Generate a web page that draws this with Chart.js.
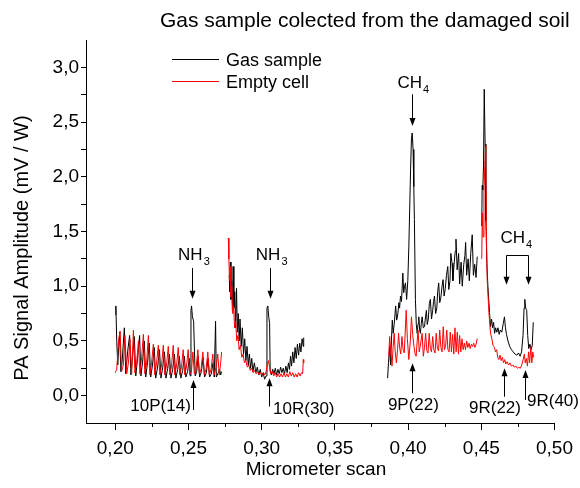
<!DOCTYPE html>
<html lang="en">
<head>
<meta charset="UTF-8">
<title>Gas sample colected from the damaged soil</title>
<script src="https://cdn.jsdelivr.net/npm/chart.js@4.4.1/dist/chart.umd.min.js"></script>
<style>
  body { margin: 0; background: #fff; }
  #wrap { width: 580px; height: 488px; position: relative; }
</style>
</head>
<body>
<div id="wrap"><canvas id="paChart"></canvas></div>
<script>
// PA signal vs micrometer scan, four scan windows; a null signal breaks the line between windows
const gasScan = [
  0.2000, 0.2004, 0.2010, 0.2017, 0.2024, 0.2030, 0.2038, 0.2046, 0.2062, 0.2072, 0.2084, 0.2098, 0.2107, 0.2118,
  0.2130, 0.2140, 0.2152, 0.2166, 0.2175, 0.2186, 0.2198, 0.2208, 0.2220, 0.2232, 0.2242, 0.2254, 0.2266, 0.2276,
  0.2290, 0.2302, 0.2312, 0.2324, 0.2336, 0.2346, 0.2358, 0.2370, 0.2380, 0.2392, 0.2404, 0.2414, 0.2426, 0.2438,
  0.2448, 0.2460, 0.2472, 0.2482, 0.2494, 0.2505, 0.2512, 0.2517, 0.2521, 0.2527, 0.2535, 0.2541, 0.2546, 0.2556,
  0.2566, 0.2576, 0.2588, 0.2600, 0.2610, 0.2622, 0.2634, 0.2644, 0.2656, 0.2668, 0.2676, 0.2685, 0.2690, 0.2700,
  0.2712, 0.2720, 0.2726,
  0.2750,
  0.2778, 0.2782, 0.2786, 0.2790, 0.2795, 0.2800, 0.2805, 0.2810, 0.2816, 0.2822, 0.2828, 0.2834, 0.2840, 0.2846,
  0.2852, 0.2860, 0.2868, 0.2876, 0.2884, 0.2892, 0.2900, 0.2908, 0.2916, 0.2924, 0.2932, 0.2940, 0.2950, 0.2960,
  0.2970, 0.2980, 0.2990, 0.3000, 0.3010, 0.3020, 0.3030, 0.3036, 0.3042, 0.3048, 0.3054, 0.3058, 0.3066, 0.3075,
  0.3084, 0.3093, 0.3102, 0.3111, 0.3120, 0.3129, 0.3138, 0.3147, 0.3156, 0.3165, 0.3174, 0.3183, 0.3190, 0.3197,
  0.3204, 0.3212, 0.3220, 0.3228, 0.3236, 0.3244, 0.3252, 0.3260, 0.3268, 0.3276, 0.3284, 0.3287,
  0.3550,
  0.3860, 0.3866, 0.3874, 0.3880, 0.3886, 0.3892, 0.3898, 0.3905, 0.3915, 0.3922, 0.3930, 0.3937, 0.3942, 0.3948,
  0.3955, 0.3964, 0.3970, 0.3976, 0.3982, 0.3990, 0.3998, 0.4005, 0.4017, 0.4023, 0.4028, 0.4034, 0.4039, 0.4043,
  0.4050, 0.4056, 0.4062, 0.4068, 0.4073, 0.4079, 0.4084, 0.4090, 0.4096, 0.4104, 0.4112, 0.4119, 0.4125, 0.4131,
  0.4138, 0.4145, 0.4152, 0.4160, 0.4168, 0.4174, 0.4180, 0.4188, 0.4196, 0.4202, 0.4209, 0.4216, 0.4224, 0.4232,
  0.4239, 0.4246, 0.4254, 0.4262, 0.4271, 0.4278, 0.4286, 0.4292, 0.4300, 0.4306, 0.4314, 0.4322, 0.4327, 0.4335,
  0.4345, 0.4352, 0.4362, 0.4370, 0.4380, 0.4388, 0.4393, 0.4400, 0.4410, 0.4418, 0.4428, 0.4438, 0.4446, 0.4455,
  0.4464, 0.4472,
  0.4488,
  0.4503, 0.4506, 0.4510, 0.4515, 0.4520, 0.4526, 0.4531, 0.4538, 0.4545, 0.4556, 0.4563, 0.4570, 0.4577, 0.4584,
  0.4591, 0.4598, 0.4606, 0.4614, 0.4622, 0.4630, 0.4640, 0.4650, 0.4658, 0.4665, 0.4672, 0.4682, 0.4694, 0.4706,
  0.4718, 0.4730, 0.4742, 0.4754, 0.4765, 0.4775, 0.4785, 0.4792, 0.4797, 0.4803, 0.4810, 0.4817, 0.4824, 0.4832,
  0.4840, 0.4848, 0.4855
];
const gasSignal = [
  0.74, 0.82, 0.50, 0.28, 0.45, 0.58, 0.22, 0.30, 0.62, 0.20, 0.40, 0.55, 0.19, 0.36,
  0.54, 0.18, 0.34, 0.55, 0.18, 0.30, 0.50, 0.17, 0.30, 0.48, 0.17, 0.28, 0.44, 0.16,
  0.27, 0.42, 0.16, 0.26, 0.40, 0.16, 0.25, 0.38, 0.16, 0.24, 0.38, 0.16, 0.24, 0.36,
  0.16, 0.23, 0.36, 0.17, 0.22, 0.34, 0.18, 0.78, 0.82, 0.72, 0.68, 0.40, 0.18, 0.22,
  0.36, 0.17, 0.22, 0.35, 0.17, 0.21, 0.34, 0.17, 0.20, 0.30, 0.17, 0.68, 0.17, 0.20,
  0.24, 0.19, 0.22,
  null,
  1.10, 0.95, 1.22, 0.88, 1.05, 0.78, 1.18, 0.80, 0.95, 0.62, 0.98, 0.58, 0.75, 0.50,
  0.70, 0.45, 0.62, 0.38, 0.52, 0.32, 0.45, 0.28, 0.38, 0.25, 0.34, 0.22, 0.30, 0.21,
  0.26, 0.19, 0.24, 0.17, 0.21, 0.15, 0.18, 0.80, 0.82, 0.72, 0.66, 0.22, 0.19, 0.24,
  0.20, 0.25, 0.19, 0.24, 0.20, 0.26, 0.21, 0.25, 0.20, 0.27, 0.21, 0.30, 0.24, 0.36,
  0.27, 0.40, 0.30, 0.44, 0.34, 0.47, 0.37, 0.48, 0.40, 0.52, 0.45, 0.53,
  null,
  0.16, 0.30, 0.45, 0.28, 0.50, 0.69, 0.57, 0.65, 0.82, 0.69, 0.75, 0.85, 0.80, 0.91,
  0.86, 1.12, 0.94, 1.00, 1.03, 0.88, 1.05, 1.36, 2.07, 2.35, 2.40, 2.25, 1.91, 1.61,
  0.88, 0.65, 0.57, 0.66, 0.72, 0.60, 0.57, 0.66, 0.72, 0.62, 0.63, 0.72, 0.78, 0.65,
  0.70, 0.84, 0.88, 0.70, 0.78, 0.86, 0.91, 0.75, 0.80, 0.95, 1.03, 0.85, 0.90, 1.00,
  1.06, 0.91, 0.98, 1.10, 1.18, 0.97, 1.05, 1.30, 1.21, 1.05, 1.20, 1.32, 1.43, 1.15,
  1.30, 1.02, 1.22, 1.00, 1.20, 1.28, 1.40, 1.10, 1.25, 1.05, 1.30, 1.47, 1.10, 1.20,
  1.08, 1.27,
  null,
  1.55, 1.92, 1.88, 2.10, 2.80, 2.30, 1.60, 1.21, 1.00, 0.76, 0.63, 0.70, 0.62, 0.67,
  0.57, 0.62, 0.58, 0.62, 0.56, 0.60, 0.58, 0.66, 0.72, 0.62, 0.56, 0.50, 0.45, 0.42,
  0.40, 0.38, 0.37, 0.39, 0.36, 0.40, 0.55, 0.80, 0.88, 0.80, 0.78, 0.55, 0.43, 0.47,
  0.42, 0.46, 0.67
];

const cellScan = [
  0.2000, 0.2010, 0.2022, 0.2033, 0.2043, 0.2055, 0.2066, 0.2078, 0.2090, 0.2100, 0.2112, 0.2124, 0.2134, 0.2146,
  0.2158, 0.2168, 0.2180, 0.2192, 0.2202, 0.2214, 0.2226, 0.2236, 0.2248, 0.2260, 0.2270, 0.2282, 0.2294, 0.2304,
  0.2316, 0.2328, 0.2338, 0.2350, 0.2362, 0.2372, 0.2384, 0.2396, 0.2406, 0.2418, 0.2430, 0.2440, 0.2452, 0.2464,
  0.2474, 0.2486, 0.2498, 0.2508, 0.2520, 0.2530, 0.2540, 0.2552, 0.2564, 0.2574, 0.2586, 0.2598, 0.2608, 0.2620,
  0.2632, 0.2642, 0.2654, 0.2666, 0.2676, 0.2688, 0.2700, 0.2710, 0.2720, 0.2726,
  0.2750,
  0.2772, 0.2776, 0.2780, 0.2785, 0.2790, 0.2796, 0.2802, 0.2808, 0.2815, 0.2822, 0.2830, 0.2838, 0.2846, 0.2855,
  0.2864, 0.2873, 0.2882, 0.2892, 0.2902, 0.2912, 0.2922, 0.2932, 0.2942, 0.2952, 0.2962, 0.2972, 0.2982, 0.2992,
  0.3002, 0.3012, 0.3022, 0.3030, 0.3038, 0.3046, 0.3054, 0.3062, 0.3072, 0.3082, 0.3092, 0.3102, 0.3112, 0.3122,
  0.3132, 0.3142, 0.3152, 0.3162, 0.3172, 0.3182, 0.3192, 0.3202, 0.3212, 0.3222, 0.3232, 0.3242, 0.3252, 0.3262,
  0.3272, 0.3280, 0.3284, 0.3287,
  0.3550,
  0.3868, 0.3874, 0.3882, 0.3890, 0.3898, 0.3905, 0.3912, 0.3920, 0.3928, 0.3935, 0.3942, 0.3950, 0.3958, 0.3966,
  0.3974, 0.3987, 0.3995, 0.4005, 0.4015, 0.4023, 0.4032, 0.4040, 0.4048, 0.4055, 0.4062, 0.4068, 0.4076, 0.4084,
  0.4096, 0.4104, 0.4112, 0.4120, 0.4128, 0.4136, 0.4144, 0.4152, 0.4160, 0.4168, 0.4176, 0.4184, 0.4192, 0.4200,
  0.4208, 0.4216, 0.4224, 0.4232, 0.4240, 0.4248, 0.4256, 0.4264, 0.4272, 0.4280, 0.4288, 0.4296, 0.4304, 0.4312,
  0.4320, 0.4328, 0.4336, 0.4344, 0.4352, 0.4360, 0.4368, 0.4376, 0.4384, 0.4392, 0.4400, 0.4408, 0.4416, 0.4424,
  0.4432, 0.4440, 0.4448, 0.4456, 0.4464, 0.4472,
  0.4488,
  0.4503, 0.4507, 0.4512, 0.4518, 0.4524, 0.4530, 0.4535, 0.4540, 0.4552, 0.4563, 0.4572, 0.4580, 0.4590, 0.4597,
  0.4605, 0.4612, 0.4620, 0.4628, 0.4636, 0.4644, 0.4652, 0.4660, 0.4668, 0.4676, 0.4686, 0.4696, 0.4706, 0.4716,
  0.4726, 0.4736, 0.4746, 0.4756, 0.4766, 0.4776, 0.4786, 0.4794, 0.4800, 0.4808, 0.4815, 0.4823, 0.4830, 0.4838,
  0.4845, 0.4852, 0.4857
];
const cellSignal = [
  0.21, 0.24, 0.50, 0.59, 0.22, 0.28, 0.55, 0.20, 0.30, 0.52, 0.20, 0.60, 0.21, 0.30,
  0.50, 0.20, 0.35, 0.56, 0.20, 0.30, 0.55, 0.19, 0.30, 0.47, 0.19, 0.30, 0.46, 0.19,
  0.28, 0.46, 0.19, 0.28, 0.45, 0.19, 0.27, 0.46, 0.19, 0.27, 0.44, 0.19, 0.26, 0.42,
  0.19, 0.26, 0.42, 0.19, 0.22, 0.40, 0.20, 0.25, 0.42, 0.20, 0.24, 0.40, 0.19, 0.24,
  0.40, 0.19, 0.24, 0.38, 0.19, 0.26, 0.38, 0.19, 0.30, 0.40,
  null,
  1.44, 1.25, 1.05, 1.18, 0.90, 1.00, 0.75, 0.82, 0.62, 0.68, 0.50, 0.55, 0.42, 0.46,
  0.35, 0.38, 0.30, 0.32, 0.26, 0.28, 0.23, 0.25, 0.21, 0.23, 0.20, 0.22, 0.19, 0.21,
  0.19, 0.21, 0.19, 0.22, 0.28, 0.32, 0.26, 0.20, 0.22, 0.18, 0.21, 0.17, 0.20, 0.17,
  0.20, 0.17, 0.21, 0.17, 0.20, 0.17, 0.22, 0.18, 0.21, 0.17, 0.20, 0.17, 0.21, 0.18,
  0.21, 0.20, 0.33, 0.30,
  null,
  0.36, 0.54, 0.40, 0.27, 0.45, 0.57, 0.40, 0.30, 0.42, 0.57, 0.44, 0.38, 0.54, 0.42,
  0.39, 0.78, 0.52, 0.33, 0.50, 0.72, 0.55, 0.45, 0.38, 0.36, 0.50, 0.60, 0.40, 0.46,
  0.57, 0.36, 0.44, 0.57, 0.41, 0.39, 0.57, 0.43, 0.40, 0.54, 0.42, 0.39, 0.57, 0.43,
  0.41, 0.60, 0.44, 0.40, 0.63, 0.42, 0.45, 0.60, 0.42, 0.40, 0.58, 0.40, 0.56, 0.38,
  0.62, 0.40, 0.58, 0.38, 0.55, 0.40, 0.52, 0.42, 0.48, 0.42, 0.50, 0.44, 0.48, 0.43,
  0.47, 0.45, 0.48, 0.44, 0.47, 0.52,
  null,
  1.25, 1.67, 1.45, 1.85, 2.10, 2.28, 1.50, 1.06, 0.76, 0.57, 0.52, 0.46, 0.44, 0.40,
  0.42, 0.35, 0.33, 0.37, 0.32, 0.35, 0.30, 0.33, 0.29, 0.31, 0.28, 0.30, 0.27, 0.28,
  0.26, 0.27, 0.25, 0.26, 0.25, 0.28, 0.33, 0.38, 0.30, 0.34, 0.27, 0.40, 0.30, 0.44,
  0.30, 0.40, 0.35
];

const seriesNames = ['Gas sample', 'Empty cell'];
const chartTitle = 'Gas sample colected from the damaged soil';
const xAxisTitle = 'Micrometer scan';
const yAxisTitle = 'PA Signal Amplitude (mV / W)';
const xMinorTicks = [0.225, 0.275, 0.325, 0.375, 0.425, 0.475];

// line labels: text (+ subscript), arrow position and arrow ends, all in axis units
const marks = [
  { text: 'NH', sub: '3', tx: 0.2429, ty: 1.242, ax: 0.2522, from: 1.167, to: 0.885 },
  { text: 'NH', sub: '3', tx: 0.2960, ty: 1.242, ax: 0.3060, from: 1.167, to: 0.885 },
  { text: '10P(14)', sub: '', tx: 0.2103, ty: -0.140, ax: 0.2533, from: -0.131, to: 0.144 },
  { text: '10R(30)', sub: '', tx: 0.3078, ty: -0.168, ax: 0.3050, from: -0.100, to: 0.159 },
  { text: '9P(22)', sub: '', tx: 0.3862, ty: -0.131, ax: 0.4030, from: 0.022, to: 0.297 },
  { text: 'CH', sub: '4', tx: 0.3928, ty: 2.815, ax: 0.4026, from: 2.754, to: 2.463 },
  { text: '9R(22)', sub: '', tx: 0.4416, ty: -0.158, ax: 0.4654, from: -0.010, to: 0.250 },
  { text: '9R(40)', sub: '', tx: 0.4812, ty: -0.094, ax: 0.4797, from: -0.040, to: 0.235 }
];
// bracket over the two small CH4 lines
const bracket = { text: 'CH', sub: '4', tx: 0.4631, ty: 1.396, x1: 0.4669, x2: 0.4817, top: 1.288, to: 1.013 };

const fontName = '"Liberation Sans", Arial, sans-serif';

function toPoints(xs, ys) {
  return xs.map((x, i) => ({ x: x, y: ys[i] }));
}

function isMajor(v, step) {
  return Math.abs(v / step - Math.round(v / step)) < 1e-6;
}

function arrow(ctx, x, y1, y2) {
  const dir = y2 > y1 ? 1 : -1;
  ctx.beginPath();
  ctx.moveTo(x, y1);
  ctx.lineTo(x, y2 - dir * 4);
  ctx.stroke();
  ctx.beginPath();
  ctx.moveTo(x, y2);
  ctx.lineTo(x - 3, y2 - dir * 8);
  ctx.lineTo(x + 3, y2 - dir * 8);
  ctx.closePath();
  ctx.fill();
}

function chemText(ctx, text, sub, x, y) {
  ctx.font = '17px ' + fontName;
  ctx.fillText(text, x, y);
  if (sub) {
    const w = ctx.measureText(text).width;
    ctx.font = '11px ' + fontName;
    ctx.fillText(sub, x + w + 1, y + 5);
  }
}

const annotate = {
  id: 'annotate',
  afterDraw(chart) {
    const ctx = chart.ctx;
    const sx = chart.scales.x, sy = chart.scales.y;
    ctx.save();
    ctx.fillStyle = '#000';
    ctx.strokeStyle = '#000';
    ctx.lineWidth = 1;
    ctx.textAlign = 'left';
    ctx.textBaseline = 'alphabetic';

    // title
    ctx.font = '21px ' + fontName;
    ctx.fillText(chartTitle, 160, 27);

    // legend
    const colors = ['#000000', '#ff0000'];
    [59.5, 81.5].forEach((ly, i) => {
      ctx.strokeStyle = colors[i];
      ctx.beginPath();
      ctx.moveTo(172, ly);
      ctx.lineTo(219, ly);
      ctx.stroke();
      ctx.font = '18px ' + fontName;
      ctx.fillText(seriesNames[i], 226, ly + 6.5);
    });
    ctx.strokeStyle = '#000';

    // minor ticks on the x axis
    const bottom = Math.round(chart.chartArea.bottom);
    xMinorTicks.forEach(v => {
      const px = Math.round(sx.getPixelForValue(v)) + 0.5;
      ctx.beginPath();
      ctx.moveTo(px, bottom);
      ctx.lineTo(px, bottom + 4);
      ctx.stroke();
    });

    // axis titles
    ctx.font = '19px ' + fontName;
    ctx.textAlign = 'center';
    ctx.textBaseline = 'middle';
    ctx.fillText(xAxisTitle, 316, 470);
    ctx.save();
    ctx.translate(22, 248);
    ctx.rotate(-Math.PI / 2);
    ctx.font = '20px ' + fontName;
    ctx.fillText(yAxisTitle, 0, 0);
    ctx.restore();

    ctx.textAlign = 'left';
    ctx.textBaseline = 'alphabetic';
    marks.forEach(m => {
      chemText(ctx, m.text, m.sub, sx.getPixelForValue(m.tx), sy.getPixelForValue(m.ty));
      const ax = Math.round(sx.getPixelForValue(m.ax)) + 0.5;
      arrow(ctx, ax, sy.getPixelForValue(m.from), sy.getPixelForValue(m.to));
    });

    const b = bracket;
    chemText(ctx, b.text, b.sub, sx.getPixelForValue(b.tx), sy.getPixelForValue(b.ty));
    const bx1 = Math.round(sx.getPixelForValue(b.x1)) + 0.5;
    const bx2 = Math.round(sx.getPixelForValue(b.x2)) + 0.5;
    const by = Math.round(sy.getPixelForValue(b.top)) + 0.5;
    ctx.beginPath();
    ctx.moveTo(bx1, by);
    ctx.lineTo(bx2, by);
    ctx.stroke();
    arrow(ctx, bx1, by, sy.getPixelForValue(b.to));
    arrow(ctx, bx2, by, sy.getPixelForValue(b.to));

    ctx.restore();
  }
};

const hideEnds = (lo, hi) => c => {
  if (c.tick && (Math.abs(c.tick.value - lo) < 1e-9 || Math.abs(c.tick.value - hi) < 1e-9)) return 'rgba(0,0,0,0)';
  return '#000';
};

new Chart(document.getElementById('paChart'), {
  type: 'line',
  data: {
    datasets: [
      {
        label: seriesNames[0],
        data: toPoints(gasScan, gasSignal),
        borderColor: '#000000',
        borderWidth: 1,
        pointRadius: 0,
        tension: 0,
        spanGaps: false,
        order: 2
      },
      {
        label: seriesNames[1],
        data: toPoints(cellScan, cellSignal),
        borderColor: '#ff0000',
        borderWidth: 1,
        pointRadius: 0,
        tension: 0,
        spanGaps: false,
        order: 1
      }
    ]
  },
  options: {
    responsive: true,
    maintainAspectRatio: false,
    animation: false,
    layout: { padding: { top: 40, right: 24, left: 0, bottom: 0 } },
    plugins: {
      legend: { display: false },
      tooltip: { enabled: false },
      title: { display: false }
    },
    scales: {
      x: {
        type: 'linear',
        min: 0.18,
        max: 0.50,
        grid: { drawOnChartArea: false, tickLength: 7, color: '#000' },
        border: { color: '#000', width: 1 },
        ticks: {
          stepSize: 0.05,
          includeBounds: false,
          autoSkip: false,
          maxRotation: 0,
          padding: 7,
          color: '#000',
          font: { family: fontName, size: 19 },
          callback: v => v.toFixed(2).replace('.', ',')
        },
        afterFit: s => { s.height = 65; }
      },
      y: {
        type: 'linear',
        min: -0.25,
        max: 3.25,
        grid: { drawOnChartArea: false, tickLength: 5, color: hideEnds(-0.25, 3.25) },
        border: { color: '#000', width: 1 },
        ticks: {
          stepSize: 0.25,
          autoSkip: false,
          padding: 2,
          color: '#000',
          font: { family: fontName, size: 19 },
          callback: v => isMajor(v, 0.5) ? v.toFixed(1).replace('.', ',') : ''
        },
        afterFit: s => { s.width = 86; }
      }
    }
  },
  plugins: [annotate]
});
</script>
</body>
</html>
